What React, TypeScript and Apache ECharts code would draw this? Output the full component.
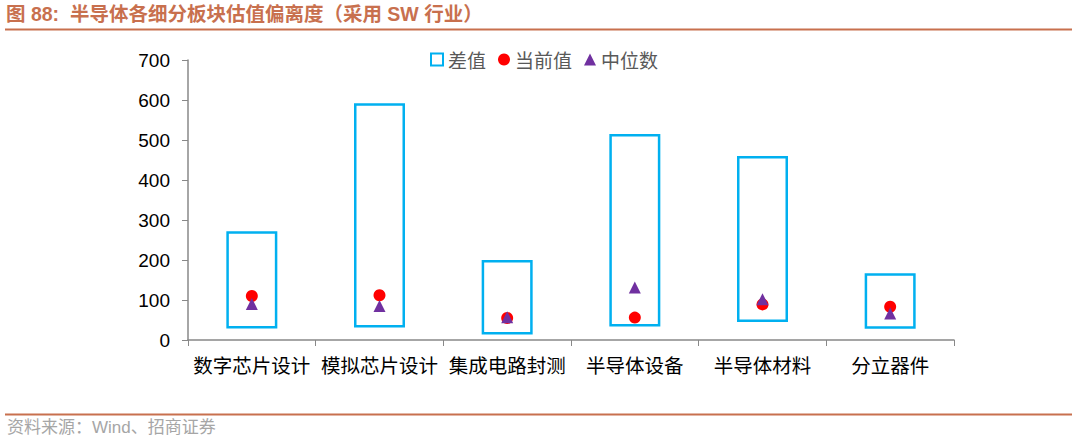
import { useEffect, useRef } from "react";
import * as echarts from "echarts";

const categories = ["数字芯片设计", "模拟芯片设计", "集成电路封测", "半导体设备", "半导体材料", "分立器件"];
const lowValues = [29, 31, 14, 34, 45, 28];
const highValues = [272, 592, 200, 515, 460, 167];
const currentValues = [110, 112, 55, 56, 89, 83];
const medianValues = [90, 85, 57, 131, 102, 66];
const yTicks = [0, 100, 200, 300, 400, 500, 600, 700];

const diffValues = highValues.map((h, i) => h - lowValues[i]);

export default function App() {
  const ref = useRef<HTMLDivElement>(null);

  useEffect(() => {
    if (!ref.current) return;
    const chart = echarts.init(ref.current, undefined, { renderer: "svg" });
    chart.setOption({
      animation: false,
      backgroundColor: "#fff",
      textStyle: { fontFamily: "Liberation Sans, Arial, Noto Sans CJK SC, sans-serif" },
      graphic: [
        {
          type: "text",
          left: 6,
          top: 4,
          style: {
            text: "图 88:  半导体各细分板块估值偏离度（采用 SW 行业）",
            fill: "#C8704E",
            font: "bold 19.5px 'Liberation Sans', 'Noto Sans CJK SC', sans-serif",
          },
        },
        {
          type: "line",
          shape: { x1: 5, y1: 29.5, x2: 1072, y2: 29.5 },
          style: { stroke: "#C8704E", lineWidth: 2 },
        },
        {
          type: "line",
          shape: { x1: 5, y1: 414.5, x2: 1072, y2: 414.5 },
          style: { stroke: "#C8704E", lineWidth: 2 },
        },
        {
          type: "text",
          left: 7,
          top: 419,
          style: {
            text: "资料来源：Wind、招商证券",
            fill: "#A6A6A6",
            font: "17px 'Liberation Sans', 'Noto Sans CJK SC', sans-serif",
          },
        },
      ],
      legend: {
        top: 45,
        left: 425,
        itemGap: 12,
        itemWidth: 12,
        itemHeight: 12,
        textStyle: { fontSize: 19, color: "#595959", fontFamily: "Noto Sans CJK SC" },
        data: [
          { name: "差值", icon: "rect", itemStyle: { color: "#fff", borderColor: "#00B0F0", borderWidth: 2 } },
          { name: "当前值", icon: "circle" },
          { name: "中位数", icon: "triangle" },
        ],
      },
      grid: { left: 188, right: 123, top: 60, bottom: 102 },
      xAxis: {
        type: "category",
        data: categories,
        axisLine: { lineStyle: { color: "#888", width: 1.5 } },
        axisTick: { show: true, length: 6, lineStyle: { color: "#888" } },
        axisLabel: {
          color: "#000",
          fontSize: 19.5,
          margin: 15,
          fontFamily: "Noto Sans CJK SC",
          interval: 0,
        },
      },
      yAxis: {
        type: "value",
        min: yTicks[0],
        max: yTicks[yTicks.length - 1],
        interval: 100,
        axisLine: { show: true, lineStyle: { color: "#888", width: 1.5 } },
        axisTick: { show: true, length: 6, lineStyle: { color: "#888" } },
        splitLine: { show: false },
        axisLabel: { color: "#000", fontSize: 19, margin: 18 },
      },
      series: [
        {
          name: "base",
          type: "bar",
          stack: "range",
          data: lowValues,
          barWidth: 51,
          itemStyle: { color: "transparent" },
          silent: true,
        },
        {
          name: "差值",
          type: "bar",
          stack: "range",
          data: diffValues,
          barWidth: 51,
          itemStyle: { color: "#fff", borderColor: "#00B0F0", borderWidth: 2.5 },
        },
        {
          name: "当前值",
          type: "scatter",
          data: currentValues,
          symbol: "circle",
          symbolSize: 12,
          itemStyle: { color: "#FF0000", opacity: 1 },
          z: 3,
        },
        {
          name: "中位数",
          type: "scatter",
          data: medianValues,
          symbol: "triangle",
          symbolSize: 12,
          itemStyle: { color: "#7030A0", opacity: 1 },
          z: 4,
        },
      ],
    });
    return () => chart.dispose();
  }, []);

  return (
    <div
      ref={ref}
      style={{ position: "fixed", left: 0, top: 0, width: 1077, height: 442 }}
    />
  );
}
